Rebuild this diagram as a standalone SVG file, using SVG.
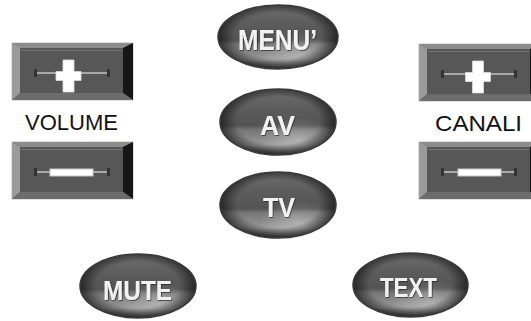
<svg xmlns="http://www.w3.org/2000/svg" xmlns:xlink="http://www.w3.org/1999/xlink" width="531" height="321" viewBox="0 0 531 321">
<style>
.lbl{font-family:"Liberation Sans",Arial,sans-serif;font-size:22px;fill:#111;text-anchor:middle}
.btxt{font-family:"Liberation Sans",Arial,sans-serif;font-size:28px;font-weight:bold;fill:#f2f2f2;text-anchor:middle;filter:url(#sh)}
.oval{stroke:#3a3a3a;stroke-width:1.5}
</style>
<defs>
<linearGradient id="og" x1="0" y1="0" x2="0" y2="1">
<stop offset="0" stop-color="#6e6e6e"/>
<stop offset="0.3" stop-color="#5c5c5c"/>
<stop offset="0.55" stop-color="#535353"/>
<stop offset="0.62" stop-color="#767676"/>
<stop offset="0.85" stop-color="#999"/>
<stop offset="1" stop-color="#5a5a5a"/>
</linearGradient>
<radialGradient id="edge" cx="0.5" cy="0.48" r="0.5">
<stop offset="0.72" stop-color="#000" stop-opacity="0"/>
<stop offset="1" stop-color="#000" stop-opacity="0.55"/>
</radialGradient>
<radialGradient id="hl" cx="0.68" cy="0.78" r="0.35">
<stop offset="0" stop-color="#fff" stop-opacity="0.3"/>
<stop offset="1" stop-color="#fff" stop-opacity="0"/>
</radialGradient>
<filter id="sh" x="-20%" y="-20%" width="140%" height="140%">
<feDropShadow dx="0.8" dy="0.8" stdDeviation="0.6" flood-color="#222" flood-opacity="0.8"/>
</filter>
<g id="frame">
<rect x="0" y="0" width="121" height="57" fill="#6a6a6a" stroke="#c4c4c4" stroke-width="1"/>
<polygon points="0,0 121,0 111,5 8,5" fill="#8c8c8c"/>
<polygon points="0,0 8,5 8,50 0,57" fill="#9b9b9b"/>
<polygon points="121,0 121,57 111,50 111,5" fill="#161616"/>
<polygon points="0,57 8,50 111,50 121,57" fill="#6c6c6c"/>
<rect x="8" y="5" width="103" height="45" fill="#575757"/>
<line x1="9" y1="7.5" x2="110" y2="7.5" stroke="#757575" stroke-width="1"/>
<line x1="24" y1="30" x2="96" y2="30" stroke="#a8a8a8" stroke-width="2"/>
<rect x="22" y="26" width="3" height="8" fill="#333"/>
<rect x="95" y="26" width="3" height="8" fill="#333"/>
</g>
<path id="plus" d="M45,28.5 H52 V17 H63 V28.5 H70 V37.5 H63 V49 H52 V37.5 H45 Z" fill="#fff" stroke="#ddd" stroke-width="0.8"/>
<rect id="minus" x="38" y="27" width="43" height="7" fill="#fff" stroke="#c8c8c8" stroke-width="1"/>
<g id="ovalshape">
<ellipse cx="0" cy="0" rx="1" ry="1" fill="url(#og)"/>
<ellipse cx="0" cy="0" rx="1" ry="1" fill="url(#hl)"/>
<ellipse cx="0" cy="0" rx="1" ry="1" fill="url(#edge)"/>
</g>
</defs>

<g id="volume-plus" transform="translate(12,43)">
<use xlink:href="#frame"/>
<use xlink:href="#plus" transform="translate(-1,0)"/>
</g>
<g id="volume-label">
<text class="lbl" x="71.5" y="130" textLength="93" lengthAdjust="spacingAndGlyphs">VOLUME</text>
</g>
<g id="volume-minus" transform="translate(12,142)">
<use xlink:href="#frame"/>
<use xlink:href="#minus"/>
</g>

<g id="canali-plus" transform="translate(419,44)">
<use xlink:href="#frame"/>
<use xlink:href="#plus" transform="translate(1.5,0)"/>
</g>
<g id="canali-label">
<text class="lbl" x="478.5" y="131" textLength="87" lengthAdjust="spacingAndGlyphs">CANALI</text>
</g>
<g id="canali-minus" transform="translate(419,142)">
<use xlink:href="#frame"/>
<use xlink:href="#minus" transform="translate(1,0)"/>
</g>

<g id="menu">
<use xlink:href="#ovalshape" transform="translate(278,37) scale(60,32)"/>
<ellipse cx="278" cy="37" rx="60" ry="32" fill="none" class="oval"/>
<text class="btxt" x="277.5" y="50" style="font-size:30px" textLength="79" lengthAdjust="spacingAndGlyphs">MENU’</text>
</g>
<g id="av">
<use xlink:href="#ovalshape" transform="translate(278,122) scale(58,33)"/>
<ellipse cx="278" cy="122" rx="58" ry="33" fill="none" class="oval"/>
<text class="btxt" x="277.5" y="135" textLength="35" lengthAdjust="spacingAndGlyphs">AV</text>
</g>
<g id="tv">
<use xlink:href="#ovalshape" transform="translate(278,205) scale(58,33)"/>
<ellipse cx="278" cy="205" rx="58" ry="33" fill="none" class="oval"/>
<text class="btxt" x="279" y="217" textLength="32" lengthAdjust="spacingAndGlyphs">TV</text>
</g>
<g id="mute">
<use xlink:href="#ovalshape" transform="translate(138,286) scale(58,32)"/>
<ellipse cx="138" cy="286" rx="58" ry="32" fill="none" class="oval"/>
<text class="btxt" x="137.5" y="300" textLength="69" lengthAdjust="spacingAndGlyphs">MUTE</text>
</g>
<g id="text-btn">
<use xlink:href="#ovalshape" transform="translate(410.5,285) scale(57.5,32)"/>
<ellipse cx="410.5" cy="285" rx="57.5" ry="32" fill="none" class="oval"/>
<text class="btxt" x="408.5" y="297" textLength="57" lengthAdjust="spacingAndGlyphs">TEXT</text>
</g>
<g id="connectors"/>
</svg>
